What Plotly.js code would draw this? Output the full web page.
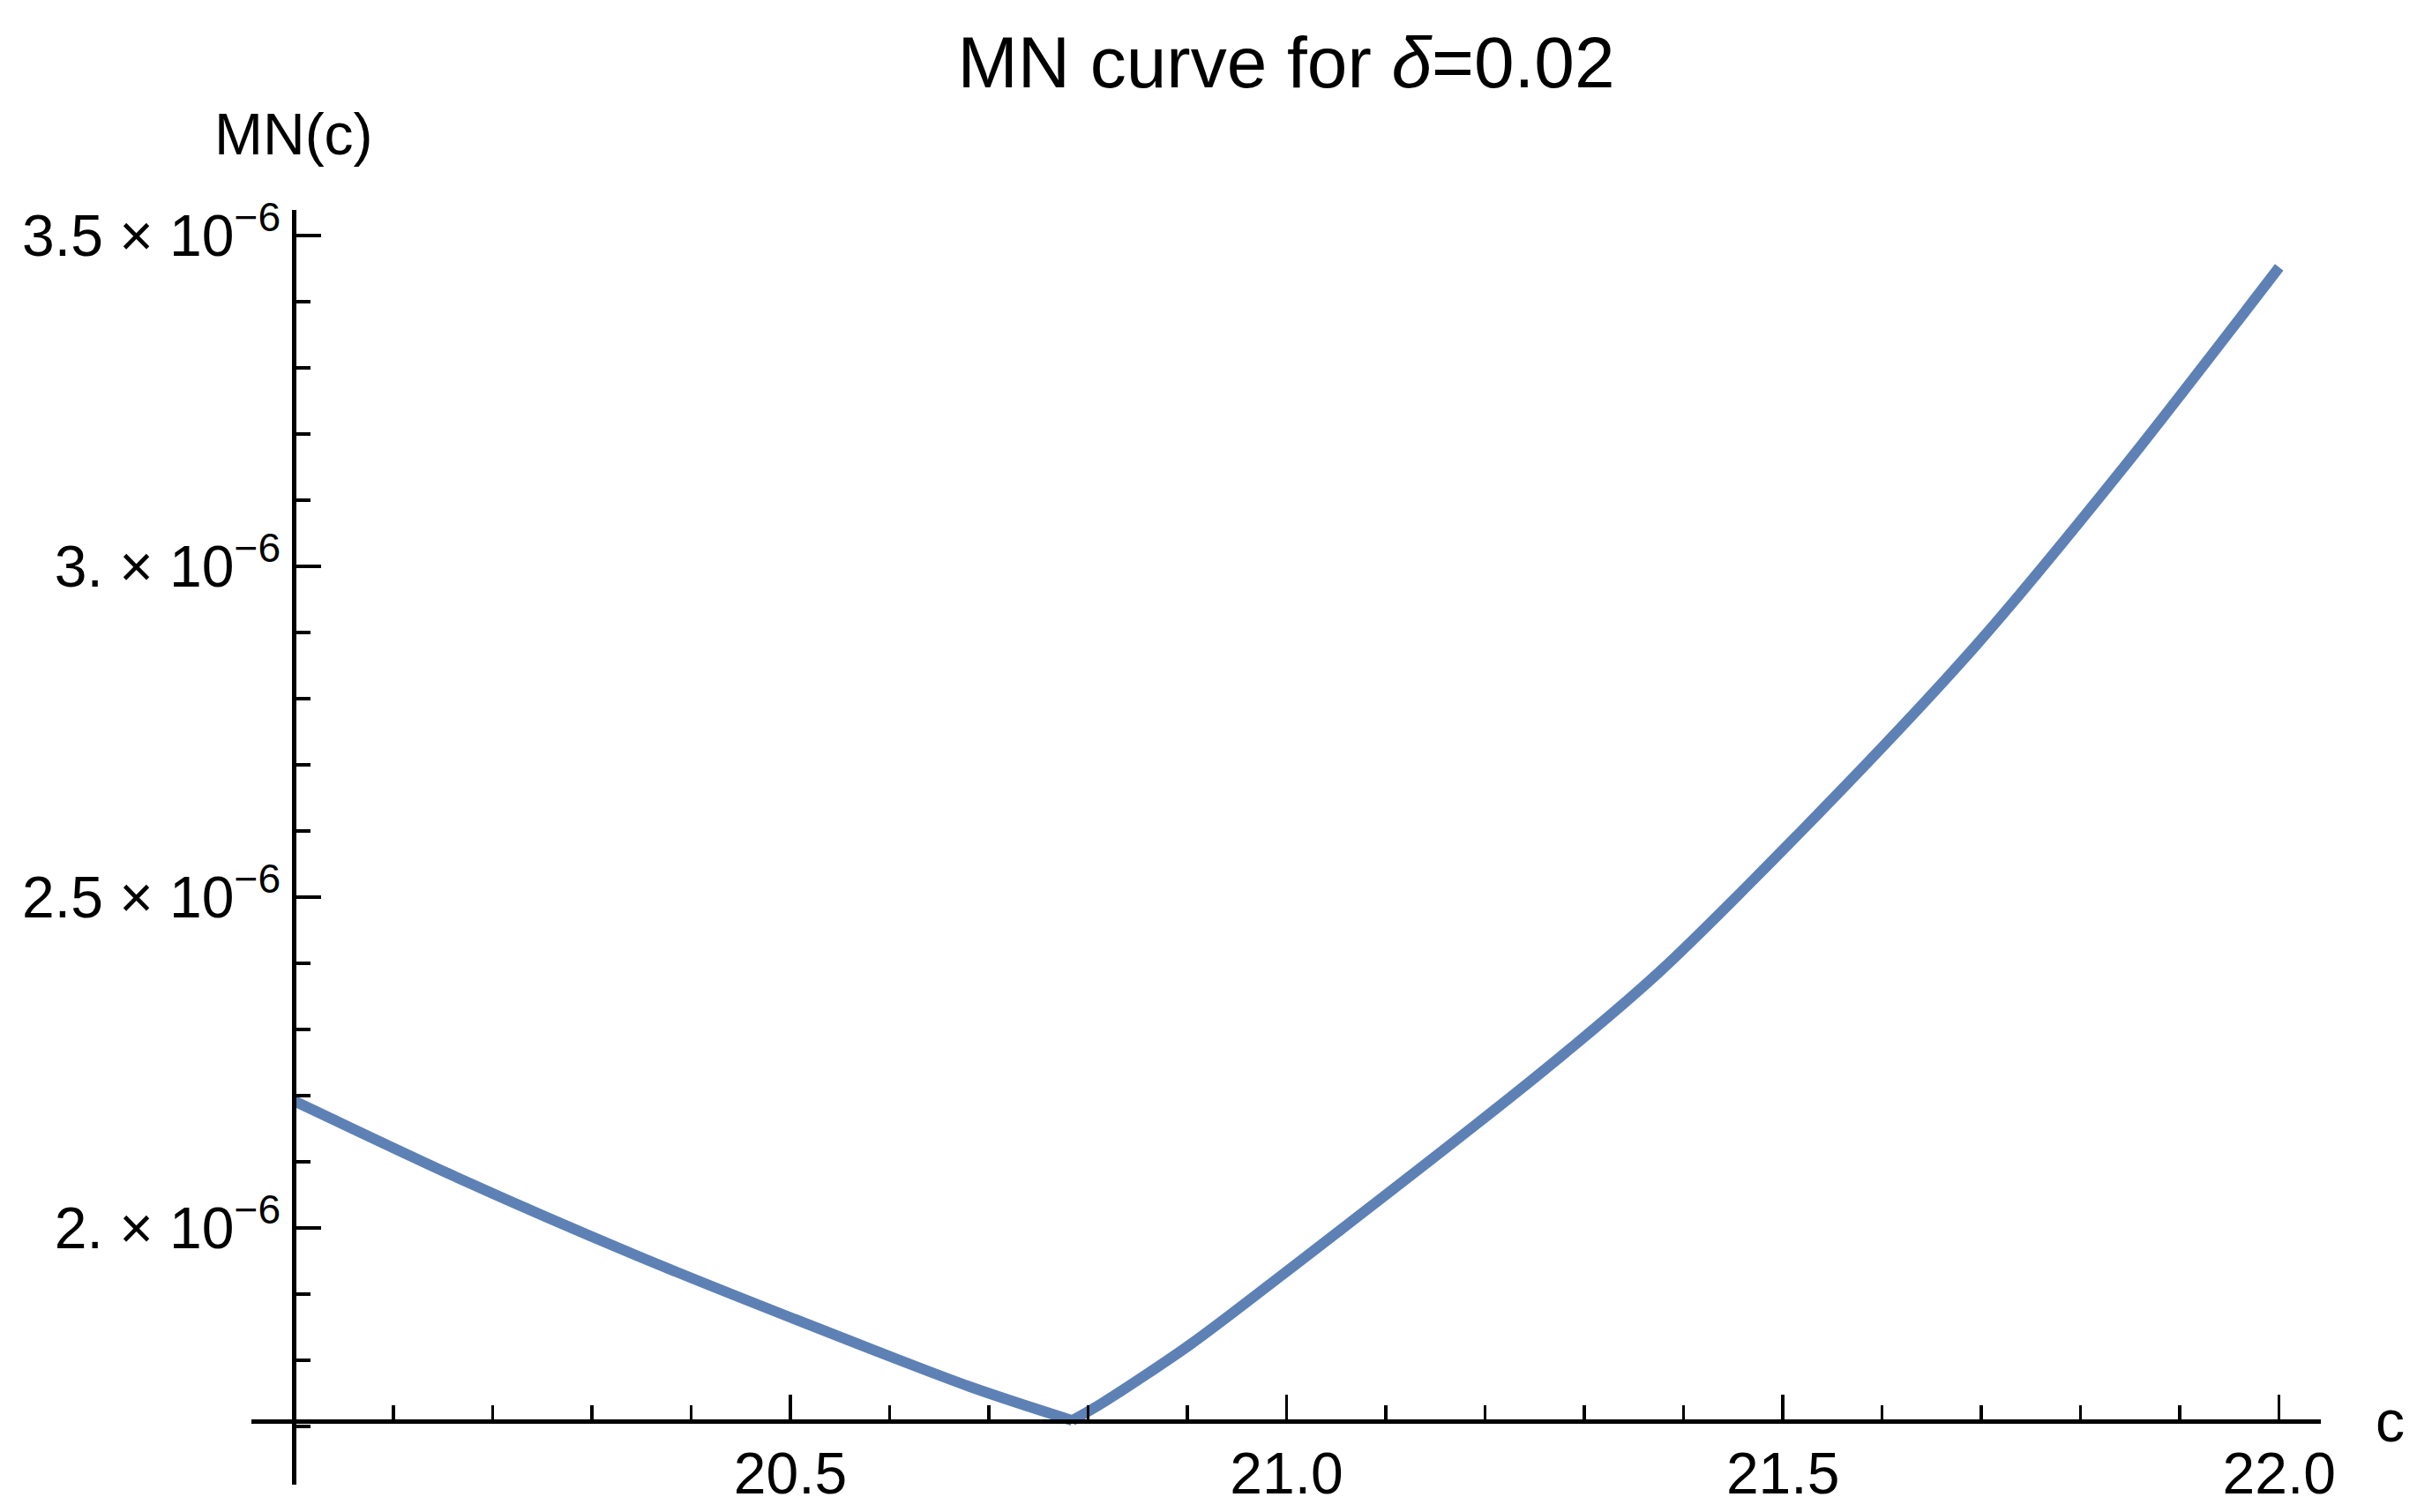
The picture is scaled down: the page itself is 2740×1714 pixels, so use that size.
<!DOCTYPE html>
<html>
<head>
<meta charset="utf-8">
<script src="https://cdn.plot.ly/plotly-3.0.1.min.js"></script>
<style>html,body{margin:0;padding:0;background:#fff;}</style>
</head>
<body>
<div id="chart" style="width:2740px;height:1714px;"></div>
<script>
// c values
const cValues = [20.000, 20.166, 20.344, 20.503, 20.681, 20.784,
                 20.815, 20.904, 20.992, 21.259, 21.377, 21.555, 21.696, 21.843, 22.000];
// MN(c) values
const mnValues = [2.192e-6, 2.075e-6, 1.959e-6, 1.863e-6, 1.760e-6, 1.709e-6,
                  1.736e-6, 1.825e-6, 1.925e-6, 2.238e-6, 2.389e-6, 2.656e-6, 2.883e-6, 3.149e-6, 3.452e-6];

const xTickVals = [20.5, 21.0, 21.5, 22.0];
const xTickText = ["20.5", "21.0", "21.5", "22.0"];
const yTickVals = [2.0e-6, 2.5e-6, 3.0e-6, 3.5e-6];
const yTickText = ["2. \u00d7 10<sup>\u22126</sup>", "2.5 \u00d7 10<sup>\u22126</sup>",
                   "3. \u00d7 10<sup>\u22126</sup>", "3.5 \u00d7 10<sup>\u22126</sup>"];

const xRange = [19.957, 22.042];
const yRange = [1.612e-6, 3.5387e-6];
const xAxisAtY = 1.708e-6;   // where the horizontal axis crosses
const yAxisAtX = 20.0;       // where the vertical axis crosses

const FONT = "'Liberation Sans', Arial, Helvetica, sans-serif";
const lineColor = "#5E81B5";

// split the curve at its minimum (the kink) so each smooth branch is drawn on its own
let kink = 0;
mnValues.forEach((v, i) => { if (v < mnValues[kink]) kink = i; });

function branch(x, y) {
  return {
    x: x, y: y, type: "scatter", mode: "lines",
    line: {color: lineColor, width: 12, shape: "spline", smoothing: 0.8},
    hoverinfo: "skip", showlegend: false
  };
}
const traces = [
  branch(cValues.slice(0, kink + 1), mnValues.slice(0, kink + 1)),
  branch(cValues.slice(kink), mnValues.slice(kink))
];

const layout = {
  width: 2740, height: 1714,
  margin: {l: 285, r: 109, t: 238, b: 31, pad: 0},
  paper_bgcolor: "#fff", plot_bgcolor: "#fff",
  font: {family: FONT, color: "#000", size: 66},
  title: {text: "MN curve for <i>\u03b4</i>=0.02", font: {family: FONT, size: 82, color: "#000"},
          xref: "paper", x: 0.5, xanchor: "center", yref: "container", y: 1 - 70/1714, yanchor: "middle"},
  xaxis: {
    range: xRange, anchor: "free",
    position: (xAxisAtY - yRange[0]) / (yRange[1] - yRange[0]),
    showgrid: false, zeroline: false, showline: true, linecolor: "#000", linewidth: 4.5,
    ticks: "inside", ticklen: 28, tickwidth: 3.5, tickcolor: "#000",
    tickmode: "array", tickvals: xTickVals, ticktext: xTickText,
    tickfont: {family: FONT, size: 66, color: "#000"},
    minor: {tickmode: "linear", tick0: 20, dtick: 0.1, ticks: "inside", ticklen: 16, tickwidth: 3.5, tickcolor: "#000", showgrid: false},
    automargin: false, fixedrange: true
  },
  yaxis: {
    range: yRange, anchor: "free",
    position: (yAxisAtX - xRange[0]) / (xRange[1] - xRange[0]),
    showgrid: false, zeroline: false, showline: true, linecolor: "#000", linewidth: 4.5,
    ticks: "inside", ticklen: 28, tickwidth: 3.5, tickcolor: "#000",
    tickmode: "array", tickvals: yTickVals, ticktext: yTickText,
    tickfont: {family: FONT, size: 66, color: "#000"},
    minor: {tickmode: "linear", tick0: 0, dtick: 1e-7, ticks: "inside", ticklen: 16, tickwidth: 3.5, tickcolor: "#000", showgrid: false},
    automargin: false, fixedrange: true
  },
  annotations: [
    {text: "MN(c)", xref: "x", x: yAxisAtX, xanchor: "center", yref: "paper", y: (1683 - 152) / 1445, yanchor: "middle",
     showarrow: false, font: {family: FONT, size: 66, color: "#000"}},
    {text: "c", xref: "paper", x: (2709 - 285) / 2346, xanchor: "center", yref: "y", y: xAxisAtY, yanchor: "middle",
     showarrow: false, font: {family: FONT, size: 66, color: "#000"}}
  ]
};

Plotly.newPlot("chart", traces, layout, {displayModeBar: false, staticPlot: true});
</script>
</body>
</html>
